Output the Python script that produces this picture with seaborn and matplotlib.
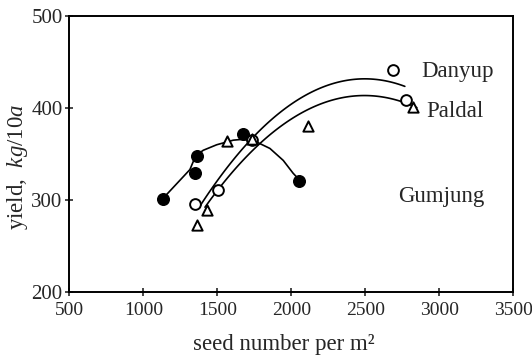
import numpy as np
import pandas as pd
import matplotlib
matplotlib.use("Agg")
import matplotlib.pyplot as plt
import seaborn as sns

# ---- data ----
gum_x = [1134, 1348, 1359, 1674, 2051]
gum_y = [301, 329, 348, 372, 321]
dan_x = [1348, 1505, 1731, 2688, 2778]
dan_y = [296, 311, 365, 441, 409]
pal_x = [1359, 1427, 1562, 1735, 2114, 2823]
pal_y = [273, 289, 364, 366, 380, 401]

# fitted curves
gum_cx = [1134, 1314, 1353, 1404, 1495, 1607, 1674, 1765, 1855, 1945, 2012, 2053]
gum_cy = [302, 333, 348, 354, 360, 365, 366, 363, 356, 343, 329, 322]
dan_cx = [1382, 1483, 1584, 1740, 1970, 2193, 2375, 2598, 2767]
dan_cy = [295, 316, 338, 368, 401, 422, 430, 431, 423]
pal_cx = [1416, 1517, 1619, 1787, 1970, 2193, 2416, 2598, 2733, 2848]
pal_cy = [291, 313, 335, 362, 387, 403, 411, 411, 409, 401]

x_ticks = [500, 1000, 1500, 2000, 2500, 3000, 3500]
y_ticks = [200, 300, 400, 500]

sns.set_style("ticks")
plt.rcParams['font.family'] = ['Liberation Serif', 'DejaVu Serif']
plt.rcParams['mathtext.fontset'] = 'custom'
plt.rcParams['mathtext.rm'] = 'Liberation Serif'
plt.rcParams['mathtext.it'] = 'Liberation Serif:italic'

fig = plt.figure(figsize=(5.32, 3.56), dpi=100)
ax = fig.add_axes([0.1306, 0.180, 0.9648 - 0.1306, 0.955 - 0.180])

lw = 1.2
# curves
sns.lineplot(x=gum_cx, y=gum_cy, sort=False, color='black', lw=lw, ax=ax)
for cx, cy in [(dan_cx, dan_cy), (pal_cx, pal_cy)]:
    coef = np.polyfit(cx, cy, 2)
    xs = np.linspace(min(cx), max(cx), 100)
    sns.lineplot(x=xs, y=np.polyval(coef, xs), sort=False, color='black', lw=lw, ax=ax)

# points
sns.scatterplot(x=gum_x, y=gum_y, marker='o', s=70, color='black',
                edgecolor='black', linewidth=1, ax=ax, zorder=5)
sns.scatterplot(x=dan_x, y=dan_y, marker='o', s=60, facecolor='white',
                edgecolor='black', linewidth=1.4, ax=ax, zorder=5)
sns.scatterplot(x=pal_x, y=pal_y, marker='^', s=55, facecolor='white',
                edgecolor='black', linewidth=1.4, ax=ax, zorder=6)

# labels
fs_lab = 16.5
ax.text(2880, 440, 'Danyup', fontsize=fs_lab, va='center', ha='left')
ax.text(2909, 396, 'Paldal', fontsize=fs_lab, va='center', ha='left')
ax.text(2720, 304, 'Gumjung', fontsize=fs_lab, va='center', ha='left')

ax.set_xlim(500, 3500)
ax.set_ylim(200, 500)
ax.set_xticks(x_ticks)
ax.set_yticks(y_ticks)
ax.tick_params(direction='inout', length=6, width=1.2)
ax.tick_params(axis='x', labelsize=14, pad=4)
ax.tick_params(axis='y', labelsize=15, pad=2)
for sp in ax.spines.values():
    sp.set_visible(True)
    sp.set_linewidth(1.4)
    sp.set_color('black')

ax.set_xlabel('seed number per m²', fontsize=fs_lab, va='center')
ax.xaxis.set_label_coords(0.483, -0.192)
ax.set_ylabel(r'yield,  $\mathit{kg/10a}$', fontsize=fs_lab, va='center')
ax.yaxis.set_label_coords(-0.118, 0.455)

fig.savefig('out.png', dpi=100)
